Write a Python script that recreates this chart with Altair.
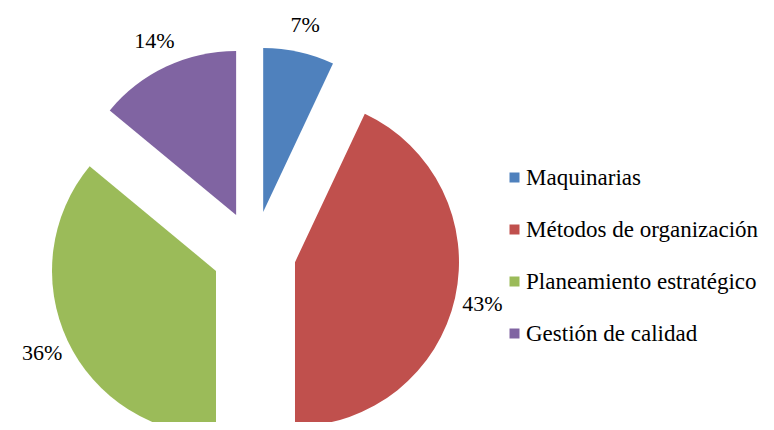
import math
import altair as alt
import pandas as pd

categorias = ["Maquinarias", "Métodos de organización", "Planeamiento estratégico", "Gestión de calidad"]
porcentajes = [7, 43, 36, 14]
colores = ["#4F81BD", "#C0504D", "#9BBB59", "#8064A2"]

df = pd.DataFrame({"categoria": categorias, "valor": porcentajes, "orden": list(range(len(categorias)))})

FONT = "Times New Roman"
EXPLODE = 42
RADIUS = 164
LABEL_R = 234

xs = alt.Scale(domain=[-246, 512], nice=False, zero=False)
ys = alt.Scale(domain=[-169, 245], nice=False, zero=False)

base = (
    alt.Chart(df)
    .transform_window(cum="sum(valor)", sort=[{"field": "orden"}], frame=[None, 0])
    .transform_calculate(
        start="datum.cum - datum.valor",
        end="datum.cum",
        mid="(datum.cum - datum.valor / 2) * 2 * PI / 100",
    )
    .transform_calculate(
        cx=f"sin(datum.mid) * {EXPLODE}",
        cy=f"cos(datum.mid) * {EXPLODE}",
        lx=f"sin(datum.mid) * {LABEL_R}",
        ly=f"cos(datum.mid) * {LABEL_R}",
        etiqueta="datum.valor + '%'",
    )
)

arcs = base.mark_arc(radius=RADIUS).encode(
    x=alt.X("cx:Q", scale=xs, axis=None),
    y=alt.Y("cy:Q", scale=ys, axis=None),
    theta=alt.Theta("start:Q", scale=alt.Scale(domain=[0, 100], range=[0, 2 * math.pi])),
    theta2="end:Q",
    color=alt.Color(
        "categoria:N",
        scale=alt.Scale(domain=categorias, range=colores),
        sort=categorias,
        legend=alt.Legend(
            title=None,
            orient="none",
            legendX=495,
            legendY=158,
            padding=0,
            symbolType="square",
            symbolSize=100,
            symbolStrokeWidth=0,
            labelFont=FONT,
            labelFontSize=23,
            labelColor="#000000",
            labelLimit=0,
            labelOffset=0,
            rowPadding=28,
        ),
    ),
)

labels = base.mark_text(font=FONT, fontSize=22, color="#000000").encode(
    x=alt.X("lx:Q", scale=xs, axis=None),
    y=alt.Y("ly:Q", scale=ys, axis=None),
    text="etiqueta:N",
)

chart = (
    alt.layer(arcs, labels)
    .properties(width=758, height=414, padding=0, autosize=alt.AutoSizeParams(type="none"))
    .configure(font=FONT)
    .configure_view(stroke=None)
)

chart.save("out.html", embed_options={"renderer": "svg", "actions": False})
